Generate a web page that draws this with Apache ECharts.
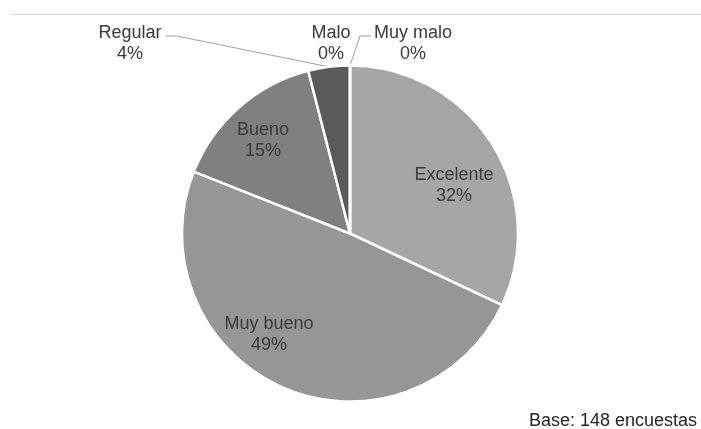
<!DOCTYPE html>
<html>
<head>
<meta charset="utf-8">
<script src="https://cdn.jsdelivr.net/npm/echarts@6/dist/echarts.min.js"></script>
<style>
  html, body { margin: 0; padding: 0; background: #ffffff; }
  #chart { width: 701px; height: 429px; }
</style>
</head>
<body>
<div id="chart"></div>
<script>
// Survey ratings (share of answers, %)
const categories = ['Excelente', 'Muy bueno', 'Bueno', 'Regular', 'Malo', 'Muy malo'];
const shares = [32, 49, 15, 4, 0, 0];
const footnote = 'Base: 148 encuestas';

// Presentation settings
const sliceColors = ['#a6a6a6', '#969696', '#808080', '#5a5a5a', '#404040', '#262626'];
const pieCenter = [350, 233.5];
const pieRadius = 168;
// label block centre, relative to the pie centre
const labelOffsets = [[104, -47.5], [-81, 101.5], [-87, -92.5], [-220, -189.5], [-19, -189.5], [63, -189.5]];
// which labels get a leader line, and on which side of the label it leaves
const leaderSide = [null, null, null, 'right', null, 'left'];

const font = 'Liberation Sans, Arial, sans-serif';
const chart = echarts.init(document.getElementById('chart'));

function anchorFor(idx) {
  let before = 0;
  for (let i = 0; i < idx; i++) before += shares[i];
  const total = shares.reduce((a, b) => a + b, 0);
  const mid = (before + shares[idx] / 2) / total * Math.PI * 2;
  return [pieCenter[0] + pieRadius * Math.sin(mid), pieCenter[1] - pieRadius * Math.cos(mid)];
}

chart.setOption({
  backgroundColor: '#ffffff',
  animation: false,
  graphic: [
    {
      type: 'line',
      shape: { x1: 10, y1: 14.5, x2: 701, y2: 14.5 },
      style: { stroke: '#d9d9d9', lineWidth: 1 }
    },
    {
      type: 'text',
      right: 4,
      top: 412,
      style: { text: footnote, font: '18px ' + font, fill: '#262626' }
    }
  ],
  series: [{
    type: 'pie',
    center: pieCenter,
    radius: pieRadius,
    startAngle: 90,
    clockwise: true,
    avoidLabelOverlap: false,
    minShowLabelAngle: 0,
    stillShowZeroSum: true,
    itemStyle: { borderColor: '#ffffff', borderWidth: 2.5 },
    label: {
      show: true,
      formatter: '{b}\n{c}%',
      fontFamily: font,
      fontSize: 18,
      lineHeight: 21,
      color: '#3a3a3a',
      align: 'center'
    },
    labelLine: {
      show: true,
      lineStyle: { color: '#a0a0a0', width: 1 }
    },
    labelLayout: function (params) {
      const i = params.dataIndex;
      const off = labelOffsets[i];
      const x = pieCenter[0] + off[0];
      const y = pieCenter[1] + off[1];
      const out = { x: x, y: y, align: 'center', verticalAlign: 'middle' };
      const side = leaderSide[i];
      if (side) {
        const w = params.labelRect.width;
        const anchor = (params.labelLinePoints && params.labelLinePoints[0]) || anchorFor(i);
        const ly = y - 8;
        if (side === 'right') {
          const sx = x + w / 2 + 4;
          out.labelLinePoints = [anchor, [sx + 11, ly], [sx, ly]];
        } else {
          const sx = x - w / 2 - 3;
          out.labelLinePoints = [anchor, [sx - 11, ly], [sx, ly]];
        }
      }
      return out;
    },
    data: categories.map((name, i) => ({
      name: name,
      value: shares[i],
      itemStyle: { color: sliceColors[i] },
      labelLine: { show: leaderSide[i] !== null }
    }))
  }]
});
</script>
</body>
</html>
